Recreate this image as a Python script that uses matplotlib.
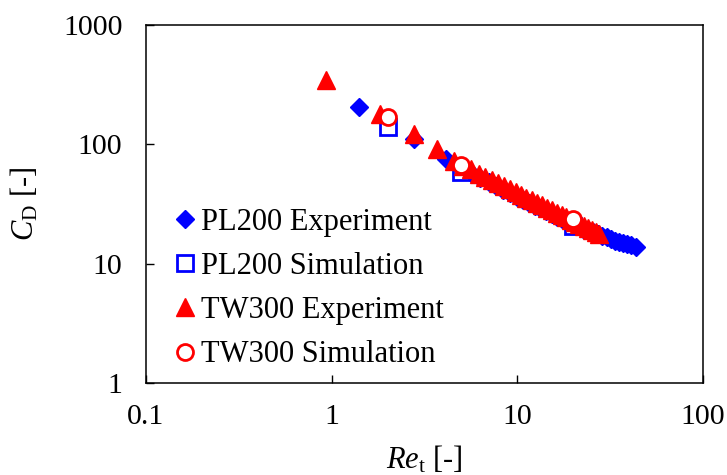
import matplotlib
matplotlib.use("Agg")
import matplotlib.pyplot as plt

plt.rcParams['font.family'] = ['Liberation Serif', 'DejaVu Serif']
plt.rcParams['mathtext.fontset'] = 'custom'
plt.rcParams['mathtext.rm'] = 'Liberation Serif'
plt.rcParams['mathtext.it'] = 'Liberation Serif:italic'

# PL200 Experiment
pl200_exp_re = [1.40, 2.76, 4.15, 4.9, 5.6, 6.3, 7.0, 7.7, 8.4, 9.1, 9.9, 10.7, 11.5, 12.4,
                13.3, 14.3, 15.3, 16.4, 17.5, 18.7, 20.0, 21.3, 22.7, 24.1, 25.6, 27.1,
                28.7, 30.3, 32.0, 33.7, 35.5, 37.3, 39.2, 41.2, 43.3]
pl200_exp_cd = [207, 110, 75, 65, 58, 52.5, 48, 44.5, 41.5, 39, 36.5, 34.3, 32.4, 30.6,
                29.0, 27.5, 26.1, 24.8, 23.6, 22.5, 21.4, 20.5, 19.7, 19.0, 18.3, 17.7,
                17.1, 16.6, 16.1, 15.6, 15.2, 14.8, 14.5, 14.2, 13.9]

# PL200 Simulation
pl200_sim_re = [2.0, 5.0, 20.0]
pl200_sim_cd = [139, 59, 20.7]

# TW300 Experiment
tw300_exp_re = [0.93, 1.83, 2.76, 3.67, 4.58, 5.1, 5.6, 6.2, 6.7, 7.3, 7.9, 8.5, 9.1, 9.8,
                10.5, 11.2, 12.0, 12.8, 13.6, 14.5, 15.4, 16.3, 17.3, 18.3, 19.4, 20.5,
                21.6, 22.8, 24.0, 25.3, 26.5, 27.7]
tw300_exp_cd = [348, 178, 121, 91, 72, 66.3, 61.6, 56.9, 53.5, 50.0, 47.1, 44.5, 42.1, 39.8,
                37.7, 35.8, 34.0, 32.3, 30.8, 29.3, 28.0, 26.7, 25.5, 24.4, 23.4, 22.4,
                21.5, 20.6, 19.8, 19.0, 18.3, 17.7]

# TW300 Simulation
tw300_sim_re = [2.0, 5.0, 20.0]
tw300_sim_cd = [168, 67, 23.5]

labels = ["PL200 Experiment", "PL200 Simulation", "TW300 Experiment", "TW300 Simulation"]

fig = plt.figure(figsize=(7.27, 4.75), dpi=100)
ax = fig.add_axes([146/727, 1-383/475, (703-146)/727, (383-25)/475])

blue = '#0000FF'
red = '#FF0000'

ax.plot(pl200_exp_re, pl200_exp_cd, linestyle='none', marker='D', ms=9.5,
        color=blue, mec=blue, label=labels[0], zorder=2)
ax.plot(pl200_sim_re, pl200_sim_cd, linestyle='none', marker='s', ms=11.5,
        mfc='white', mec=blue, mew=2, label=labels[1], zorder=3)
ax.plot(tw300_exp_re, tw300_exp_cd, linestyle='none', marker='^', ms=13,
        color=red, mec=red, label=labels[2], zorder=4)
ax.plot(tw300_sim_re, tw300_sim_cd, linestyle='none', marker='o', ms=11.5,
        mfc='white', mec=red, mew=2, label=labels[3], zorder=5)

ax.set_xscale('log')
ax.set_yscale('log')
ax.set_xlim(0.1, 100)
ax.set_ylim(1, 1000)
ax.set_xticks([0.1, 1, 10, 100])
ax.set_xticklabels(['0.1', '1', '10', '100'])
ax.set_yticks([1, 10, 100, 1000])
ax.set_yticklabels(['1', '10', '100', '1000'])
ax.minorticks_off()
ax.tick_params(axis='both', which='major', direction='in', length=6, width=1,
               labelsize=21.5, colors='black')
ax.tick_params(axis='x', pad=15)
ax.tick_params(axis='y', pad=17)
for sp in ax.spines.values():
    sp.set_linewidth(1.1)
    sp.set_color('black')

ax.set_xlabel(r'$Re_{\mathrm{t}}$ [-]', fontsize=22, labelpad=10)
ax.set_ylabel(r'$C_{\mathrm{D}}$ [-]', fontsize=22, labelpad=16)

leg = ax.legend(loc='upper left', bbox_to_anchor=(0.054, 0.49), frameon=False,
                fontsize=22, handlelength=0.6, handletextpad=0.2, borderpad=0,
                borderaxespad=0, labelspacing=0.5, markerscale=1.0)

fig.savefig('out.png', dpi=100)
